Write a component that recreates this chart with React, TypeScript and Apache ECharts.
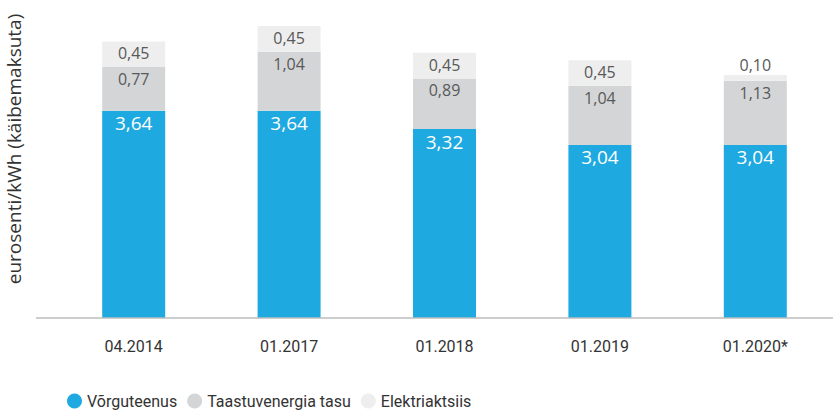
import React, { useEffect, useRef } from "react";
import * as echarts from "echarts";

const categories = ["04.2014", "01.2017", "01.2018", "01.2019", "01.2020*"];
const vorguteenus = [3.64, 3.64, 3.32, 3.04, 3.04];
const taastuvenergia = [0.77, 1.04, 0.89, 1.04, 1.13];
const elektriaktsiis = [0.45, 0.45, 0.45, 0.45, 0.1];
const seriesNames = ["Võrguteenus", "Taastuvenergia tasu", "Elektriaktsiis"];
const axisTitle = "eurosenti/kWh (käibemaksuta)";

const fmt = (p: any) => Number(p.value).toFixed(2).replace(".", ",");
const narrow = "Roboto, sans-serif";
const humanist = "'Open Sans', 'Noto Sans', sans-serif";

export default function App() {
  const ref = useRef<HTMLDivElement>(null);
  useEffect(() => {
    if (!ref.current) return;
    const chart = echarts.init(ref.current, undefined, { renderer: "svg" });
    const greyLabel = {
      show: true,
      position: "insideTop",
      distance: 4,
      color: "#595959",
      fontSize: 16,
      fontFamily: humanist,
      formatter: fmt,
    };
    chart.setOption({
      animation: false,
      grid: { left: 56, right: -6, top: 5, bottom: 94 },
      legend: {
        left: 62,
        top: 388,
        icon: "circle",
        itemWidth: 15,
        itemHeight: 15,
        itemGap: 10,
        textStyle: { fontSize: 16, color: "#333", fontFamily: narrow, fontWeight: "normal" },
        data: seriesNames,
      },
      xAxis: {
        type: "category",
        data: categories,
        axisLine: { show: false },
        axisTick: { show: false },
        axisLabel: { margin: 20, fontSize: 16, color: "#333", fontFamily: narrow, fontWeight: "normal" },
      },
      yAxis: {
        type: "value",
        min: 0,
        max: 5.5,
        show: false,
        splitLine: { show: false },
      },
      graphic: [
        {
          type: "line",
          shape: { x1: 36, y1: 318, x2: 833, y2: 318 },
          style: { stroke: "#BDBDBD", lineWidth: 1.5 },
          z: 10,
        },
        {
          type: "text",
          x: 14,
          y: 149,
          rotation: Math.PI / 2,
          style: {
            text: axisTitle,
            fontSize: 19,
            fill: "#333",
            fontFamily: humanist,
            align: "center",
            verticalAlign: "middle",
          },
        },
      ],
      series: [
        {
          name: seriesNames[0],
          type: "bar",
          stack: "total",
          barWidth: 63,
          data: vorguteenus,
          itemStyle: { color: "#1EA9E0" },
          label: {
            show: true,
            position: "insideTop",
            distance: 3,
            color: "#ffffff",
            fontSize: 19,
            fontFamily: humanist,
            formatter: fmt,
          },
        },
        {
          name: seriesNames[1],
          type: "bar",
          stack: "total",
          barWidth: 63,
          data: taastuvenergia,
          itemStyle: { color: "#D4D5D7" },
          label: greyLabel,
        },
        {
          name: seriesNames[2],
          type: "bar",
          stack: "total",
          barWidth: 63,
          data: elektriaktsiis.map((v) =>
            v < 0.2 ? { value: v, label: { position: "top", distance: 2 } } : v
          ),
          itemStyle: { color: "#EEEEEE" },
          label: greyLabel,
        },
      ],
    });
    return () => chart.dispose();
  }, []);
  return <div ref={ref} style={{ width: 833, height: 412, position: "absolute", left: 0, top: 0 }} />;
}
